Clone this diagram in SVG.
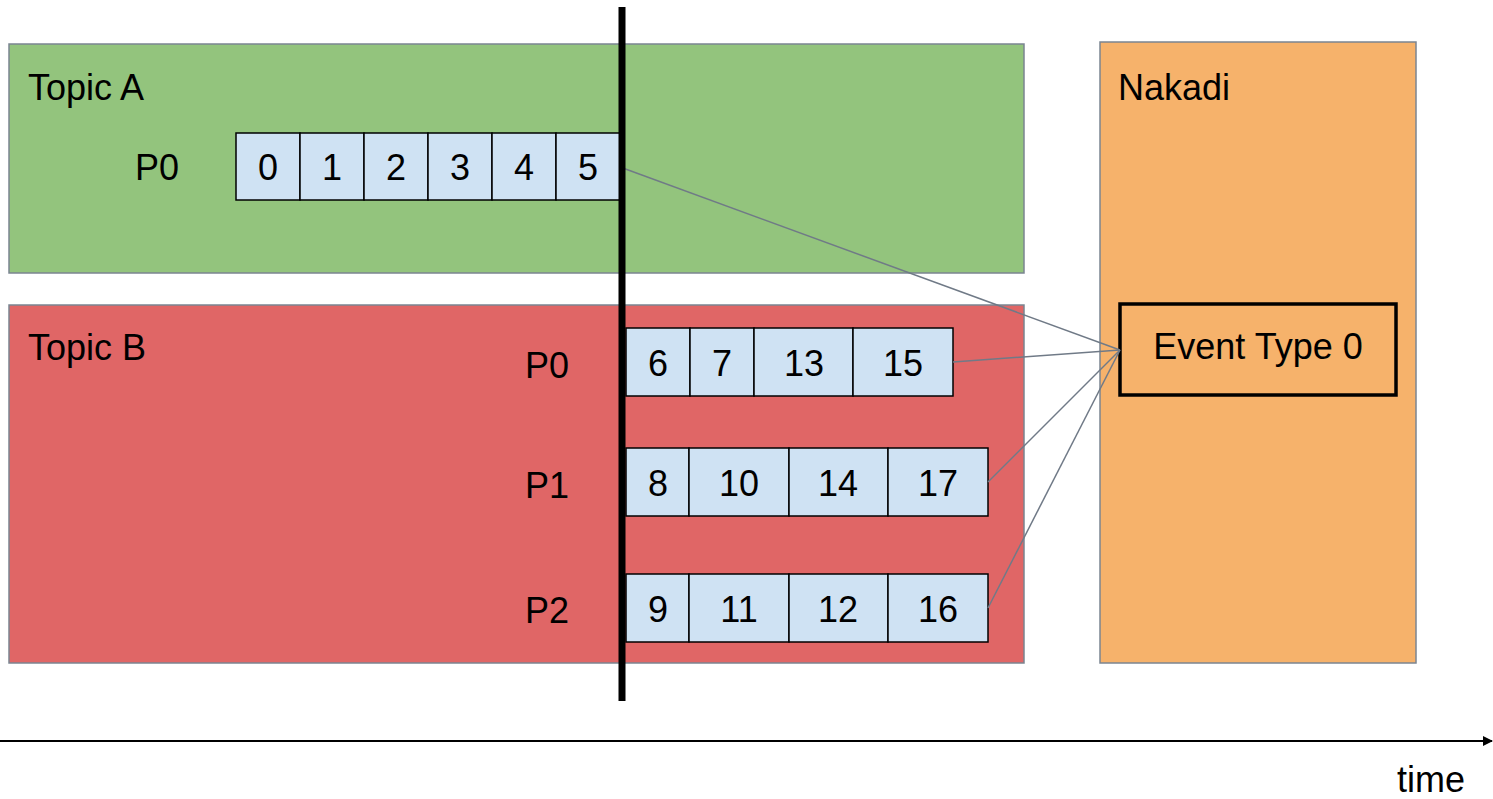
<svg xmlns="http://www.w3.org/2000/svg" width="1493" height="799" viewBox="0 0 1493 799">
<defs>
<style>
text{font-family:"Liberation Sans",Arial,sans-serif;font-size:36px;fill:#000}
.c{text-anchor:middle}
.cell{fill:#cfe2f3;stroke:#000;stroke-width:1.5}
.topic{stroke:#7b8591;stroke-width:1.5}
.conn{stroke:#707a87;stroke-width:1.5;fill:none}
</style>
<marker id="arr" markerWidth="10" markerHeight="10" refX="9" refY="5" orient="auto" markerUnits="userSpaceOnUse">
<path d="M0,0 L10,5 L0,10 z" fill="#000"/>
</marker>
</defs>
<rect width="1493" height="799" fill="#fff"/>
<g id="topicA">
<rect class="topic" x="9" y="44" width="1015" height="229" fill="#93c47d"/>
<text x="28" y="100">Topic A</text>
<text x="135" y="180">P0</text>
</g>
<g id="topicB">
<rect class="topic" x="9" y="305" width="1015" height="358" fill="#e06666"/>
<text x="28" y="360">Topic B</text>
<text x="525" y="378">P0</text>
<text x="525" y="498">P1</text>
<text x="525" y="623">P2</text>
</g>
<g id="nakadi">
<rect class="topic" x="1100" y="42" width="316" height="621" fill="#f6b26b"/>
<text x="1118" y="100">Nakadi</text>
</g>
<g id="eventType0">
<rect x="1120" y="304" width="276" height="91" fill="#f6b26b" stroke="#000" stroke-width="3.5"/>
<text class="c" x="1258" y="359">Event Type 0</text>
</g>
<g id="topicA-p0">
<rect class="cell" x="236" y="133" width="64" height="67"/>
<rect class="cell" x="300" y="133" width="64" height="67"/>
<rect class="cell" x="364" y="133" width="64" height="67"/>
<rect class="cell" x="428" y="133" width="64" height="67"/>
<rect class="cell" x="492" y="133" width="64" height="67"/>
<rect class="cell" x="556" y="133" width="64" height="67"/>
<text class="c" x="268" y="180">0</text>
<text class="c" x="332" y="180">1</text>
<text class="c" x="396" y="180">2</text>
<text class="c" x="460" y="180">3</text>
<text class="c" x="524" y="180">4</text>
<text class="c" x="588" y="180">5</text>
</g>
<g id="topicB-p0">
<rect class="cell" x="626" y="328" width="64" height="68"/>
<rect class="cell" x="690" y="328" width="64" height="68"/>
<rect class="cell" x="754" y="328" width="99" height="68"/>
<rect class="cell" x="853" y="328" width="100" height="68"/>
<text class="c" x="658" y="376">6</text>
<text class="c" x="722" y="376">7</text>
<text class="c" x="804" y="376">13</text>
<text class="c" x="903" y="376">15</text>
</g>
<g id="topicB-p1">
<rect class="cell" x="626" y="448" width="63" height="68"/>
<rect class="cell" x="689" y="448" width="100" height="68"/>
<rect class="cell" x="789" y="448" width="99" height="68"/>
<rect class="cell" x="888" y="448" width="100" height="68"/>
<text class="c" x="658" y="496">8</text>
<text class="c" x="739" y="496">10</text>
<text class="c" x="838" y="496">14</text>
<text class="c" x="938" y="496">17</text>
</g>
<g id="topicB-p2">
<rect class="cell" x="626" y="574" width="63" height="68"/>
<rect class="cell" x="689" y="574" width="100" height="68"/>
<rect class="cell" x="789" y="574" width="99" height="68"/>
<rect class="cell" x="888" y="574" width="100" height="68"/>
<text class="c" x="658" y="622">9</text>
<text class="c" x="739" y="622">11</text>
<text class="c" x="838" y="622">12</text>
<text class="c" x="938" y="622">16</text>
</g>
<g id="connectors">
<line class="conn" x1="620" y1="167" x2="1120" y2="350"/>
<line class="conn" x1="953" y1="362" x2="1120" y2="350"/>
<line class="conn" x1="988" y1="482" x2="1120" y2="350"/>
<line class="conn" x1="988" y1="608" x2="1120" y2="350"/>
</g>
<g id="cutline">
<line x1="622" y1="7" x2="622" y2="701" stroke="#000" stroke-width="7"/>
</g>
<g id="timeAxis">
<line x1="0" y1="741" x2="1492" y2="741" stroke="#000" stroke-width="2" marker-end="url(#arr)"/>
<text x="1397" y="792">time</text>
</g>
</svg>
